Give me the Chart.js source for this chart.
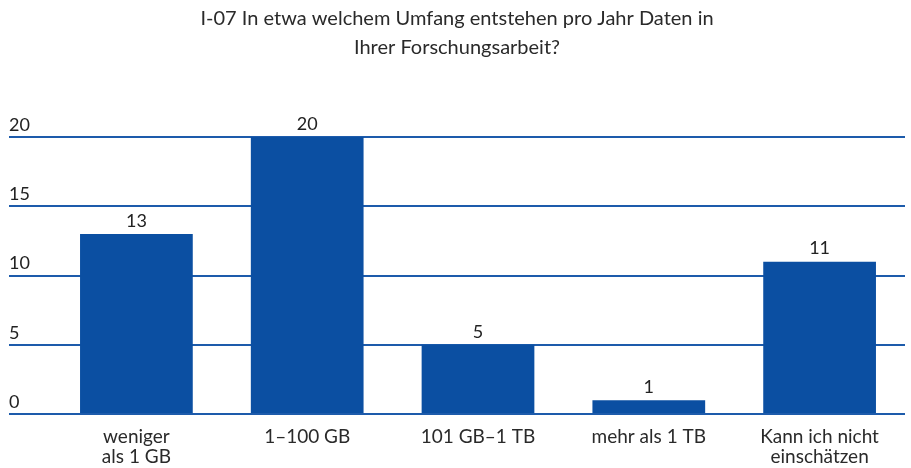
<!DOCTYPE html>
<html>
<head>
<meta charset="utf-8">
<script src="https://cdn.jsdelivr.net/npm/chart.js@4"></script>
<style>
  html, body { margin: 0; padding: 0; background: #fff; }
  #wrap { width: 911px; height: 468px; position: relative; }
</style>
</head>
<body>
<div id="wrap"><canvas id="chart"></canvas></div>
<script>
const TITLE = ["I-07 In etwa welchem Umfang entstehen pro Jahr Daten in", "Ihrer Forschungsarbeit?"];
const CATEGORIES = [
  ["weniger", "als 1 GB"],
  "1–100 GB",
  "101 GB–1 TB",
  "mehr als 1 TB",
  ["Kann ich nicht", "einschätzen"]
];
const COUNTS = [13, 20, 5, 1, 11];
const Y_TICKS = [0, 5, 10, 15, 20];

const BLUE = "#0b4fa2";
const GRID_BLUE = "#1d5bab";
const FONT = "Lato, 'Open Sans', sans-serif";

// zahlen über den balken
const valueLabels = {
  id: "valueLabels",
  afterDatasetsDraw(chart) {
    const ctx = chart.ctx;
    const meta = chart.getDatasetMeta(0);
    ctx.save();
    ctx.font = "18px " + FONT;
    ctx.fillStyle = "#222";
    ctx.textAlign = "center";
    ctx.textBaseline = "bottom";
    meta.data.forEach((bar, i) => {
      ctx.fillText(String(COUNTS[i]), bar.x, bar.y - 4);
    });
    ctx.restore();
  }
};

new Chart(document.getElementById("chart"), {
  type: "bar",
  data: {
    labels: CATEGORIES,
    datasets: [{
      data: COUNTS,
      backgroundColor: BLUE,
      borderWidth: 0,
      barPercentage: 0.66,
      categoryPercentage: 1
    }]
  },
  options: {
    responsive: true,
    maintainAspectRatio: false,
    animation: false,
    layout: { padding: { left: 9, right: 6, top: 0, bottom: 0 } },
    plugins: {
      legend: { display: false },
      tooltip: { enabled: false },
      title: {
        display: true,
        text: TITLE,
        color: "#2a2a2a",
        font: { size: 20, family: FONT, weight: "normal", lineHeight: 1.45 },
        padding: { top: 4, bottom: 75 }
      }
    },
    scales: {
      x: {
        afterFit: (scale) => {
          scale.height = 54;
        },
        grid: { display: false, drawTicks: false },
        border: { display: false },
        ticks: {
          color: "#2a2a2a",
          padding: 13,
          maxRotation: 0,
          font: { size: 19, family: FONT, lineHeight: 1.05 }
        }
      },
      y: {
        min: 0,
        max: 20,
        afterBuildTicks: (scale) => {
          scale.ticks = Y_TICKS.map((v) => ({ value: v }));
        },
        afterFit: (scale) => {
          scale.width = 42;
        },
        grid: { color: GRID_BLUE, lineWidth: 2, tickLength: 42, drawTicks: true },
        border: { display: false },
        ticks: {
          color: "#222",
          crossAlign: "far",
          labelOffset: -12,
          padding: 0,
          font: { size: 18, family: FONT }
        }
      }
    }
  },
  plugins: [valueLabels]
});
</script>
</body>
</html>
